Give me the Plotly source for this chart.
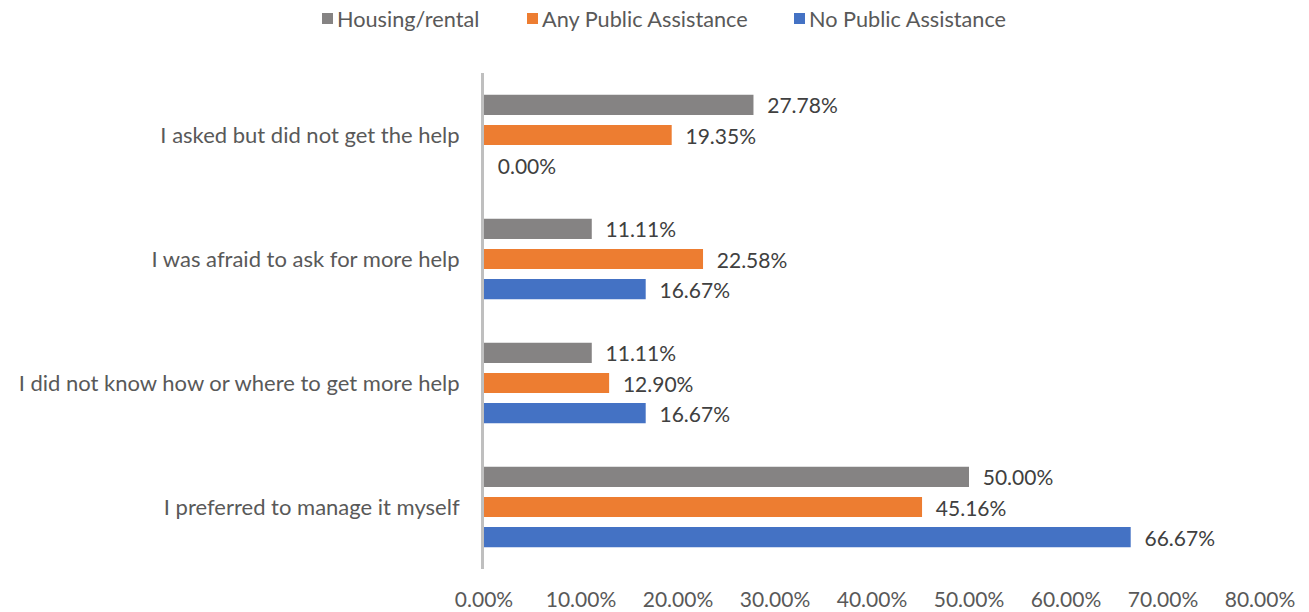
import plotly.graph_objects as go

categories = [
    "I asked but did not get the help",
    "I was afraid to ask for more help",
    "I did not know how or where to get more help",
    "I preferred to manage it myself",
]
housing_rental = [27.78, 11.11, 11.11, 50.00]
any_public = [19.35, 22.58, 12.90, 45.16]
no_public = [0.00, 16.67, 16.67, 66.67]
tick_vals = [0, 10, 20, 30, 40, 50, 60, 70, 80]
tick_text = ["0.00%", "10.00%", "20.00%", "30.00%", "40.00%",
             "50.00%", "60.00%", "70.00%", "80.00%"]

series = [
    ("Housing/rental", housing_rental, "#858383"),
    ("Any Public Assistance", any_public, "#ED7D31"),
    ("No Public Assistance", no_public, "#4472C4"),
]

FONT = "Lato"
TEXT = "#595959"
W, H = 1309, 612
ML, MR, MT, MB = 484, 49, 73, 43
PW = W - ML - MR
PH = H - MT - MB

fig = go.Figure()
for name, vals, color in series:
    fig.add_trace(go.Bar(
        y=categories, x=vals, name=name, orientation="h",
        marker=dict(color=color, line=dict(width=0)),
        text=[f"  {v:.2f}%" for v in vals],
        textposition="outside",
        constraintext="none",
        textfont=dict(family=FONT, size=21, color="#404040"),
        cliponaxis=False,
        showlegend=False,
    ))

# legend row drawn as colored squares with labels
legend_x = [322, 527, 794]  # pixel left edge of each square
shapes = []
annotations = []
for (name, _, color), lx in zip(series, legend_x):
    x0 = (lx - ML) / PW
    x1 = (lx + 11 - ML) / PW
    y0 = (H - 24 - MB) / PH
    y1 = (H - 13 - MB) / PH
    shapes.append(dict(type="rect", xref="paper", yref="paper",
                       x0=x0, x1=x1, y0=y0, y1=y1,
                       fillcolor=color, line=dict(width=0)))
    annotations.append(dict(xref="paper", yref="paper",
                            x=(lx + 13 - ML) / PW, y=(H - 19 - MB) / PH,
                            xanchor="left", yanchor="middle",
                            text=name, showarrow=False,
                            font=dict(family=FONT, size=21.7, color=TEXT)))

fig.update_layout(
    width=W, height=H,
    margin=dict(l=ML, r=MR, t=MT, b=MB),
    paper_bgcolor="white", plot_bgcolor="white",
    barmode="group", bargap=0.27, bargroupgap=0.33,
    font=dict(family=FONT, size=22, color=TEXT),
    showlegend=False,
    shapes=shapes,
    annotations=annotations,
    xaxis=dict(range=[0, 80], tickvals=tick_vals, ticktext=tick_text,
               showgrid=False, zeroline=False, showline=False,
               ticks="outside", ticklen=12, tickcolor="rgba(0,0,0,0)",
               tickfont=dict(family=FONT, size=21, color=TEXT),
               automargin=False, fixedrange=True),
    yaxis=dict(autorange="reversed", showgrid=False, zeroline=False,
               showline=True, linecolor="#BFBFBF", linewidth=3,
               ticks="outside", ticklen=17, tickcolor="rgba(0,0,0,0)",
               tickfont=dict(family=FONT, size=22, color=TEXT),
               automargin=False),
)

fig.write_html("out.html")
